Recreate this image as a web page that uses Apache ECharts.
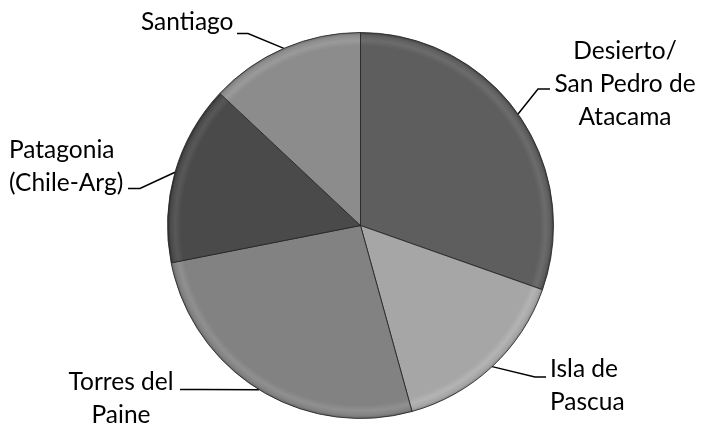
<!DOCTYPE html>
<html>
<head>
<meta charset="utf-8">
<script src="https://cdn.jsdelivr.net/npm/echarts@6/dist/echarts.min.js"></script>
<style>html,body{margin:0;padding:0;background:#fff;}#c{width:703px;height:424px;}</style>
</head>
<body>
<div id="c"></div>
<script>
// Data (share of the pie, %)
const categories = ['Desierto/\nSan Pedro de\nAtacama', 'Isla de\nPascua', 'Torres del\nPaine', 'Patagonia\n(Chile-Arg)', 'Santiago'];
const values = [30.4, 15.3, 26.2, 15.1, 13.0];
const sliceColors = ['#5e5e5e', '#a6a6a6', '#828282', '#4a4a4a', '#8c8c8c'];

// label placement (layout only)
const labelPlaces = [
  { x: 625, y: 84, align: 'center', bend: [538, 89], end: [550, 89] },
  { x: 550, y: 386, align: 'left', bend: [535, 377], end: [546, 377] },
  { x: 121, y: 399, align: 'center', bend: [200, 389.5], end: [180, 389.5] },
  { x: 9, y: 167, align: 'left', bend: [140, 188.5], end: [128, 188.5] },
  { x: 141, y: 22, align: 'left', bend: [248, 33.5], end: [237, 33.5] }
];

const CX = 360.5, CY = 225.5, R = 193;

function shade(hex, amt) {
  const n = parseInt(hex.slice(1), 16);
  let r = (n >> 16) & 255, g = (n >> 8) & 255, b = n & 255;
  const f = v => Math.max(0, Math.min(255, Math.round(v + amt)));
  return 'rgb(' + f(r) + ',' + f(g) + ',' + f(b) + ')';
}

function grad(c) {
  return {
    type: 'radial', x: CX, y: CY, r: R, global: true,
    colorStops: [
      { offset: 0, color: shade(c, 0) },
      { offset: 0.93, color: shade(c, 0) },
      { offset: 0.96, color: shade(c, 14) },
      { offset: 0.985, color: shade(c, 0) },
      { offset: 1, color: shade(c, -28) }
    ]
  };
}

const data = categories.map((name, i) => ({
  name: name,
  value: values[i],
  itemStyle: { color: grad(sliceColors[i]) }
}));

const chart = echarts.init(document.getElementById('c'), null, { renderer: 'canvas' });
chart.setOption({
  animation: false,
  backgroundColor: '#ffffff',
  series: [{
    type: 'pie',
    center: [CX, CY],
    radius: [0, R],
    startAngle: 90,
    clockwise: true,
    avoidLabelOverlap: false,
    data: data,
    itemStyle: { borderColor: 'rgba(35,35,35,0.85)', borderWidth: 1 },
    emphasis: { disabled: true },
    label: {
      show: true,
      position: 'outside',
      color: '#000',
      fontFamily: 'Lato, "Open Sans", sans-serif',
      fontSize: 24.5,
      lineHeight: 33,
      formatter: '{b}'
    },
    labelLine: { show: true, length: 20, length2: 10, lineStyle: { color: '#000', width: 1.5 } },
    labelLayout: function (p) {
      const L = labelPlaces[p.dataIndex];
      const a = p.labelLinePoints ? p.labelLinePoints[0] : null;
      const res = { x: L.x, y: L.y, align: L.align, verticalAlign: 'middle' };
      if (a) res.labelLinePoints = [a, L.bend, L.end];
      return res;
    }
  }]
});
</script>
</body>
</html>
